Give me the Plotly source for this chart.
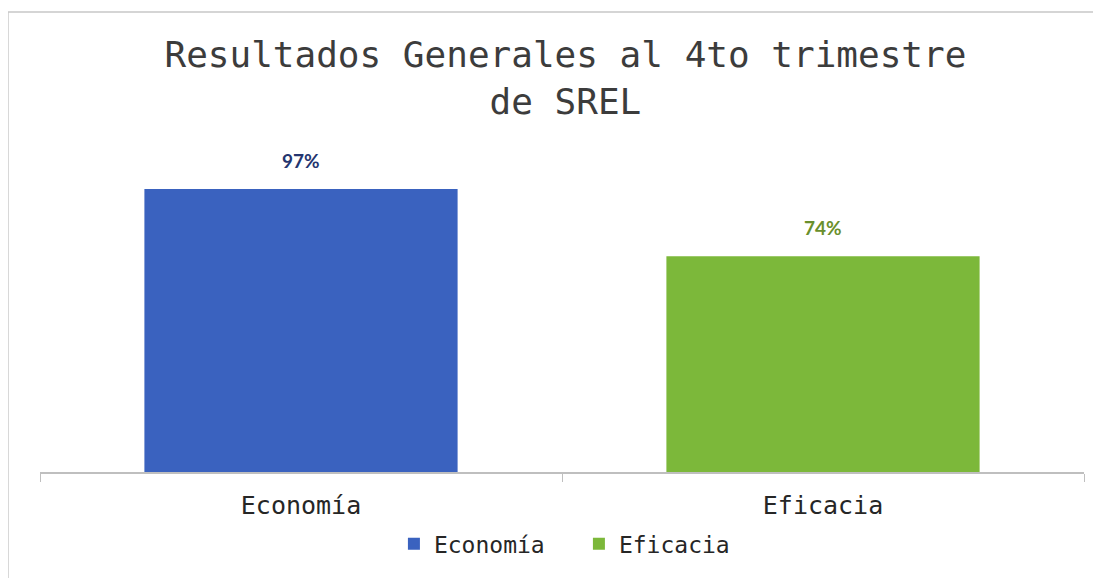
import plotly.graph_objects as go

categories = ["Economía", "Eficacia"]
values = [97, 74]
labels = ["97%", "74%"]
bar_colors = ["#3A62BF", "#7CB83A"]
label_colors = ["#24356F", "#6A8F2C"]

MONO = "DejaVu Sans Mono, Liberation Mono, monospace"

fig = go.Figure()
for cat, val, col in zip(categories, values, bar_colors):
    fig.add_trace(go.Bar(
        x=[cat], y=[val], name=cat,
        marker=dict(color=col, line=dict(width=0)),
    ))

annotations = []
for cat, val, lab, lcol in zip(categories, values, labels, label_colors):
    annotations.append(dict(
        x=cat, y=val, xref="x", yref="y", text="<b>" + lab + "</b>",
        showarrow=False, yanchor="bottom", yshift=15,
        font=dict(family="Lato, Noto Sans, sans-serif", size=19, color=lcol),
    ))

# the page body adds an 8px offset, so the figure is sized 8px smaller
fig.update_layout(
    width=1093, height=570,
    paper_bgcolor="white", plot_bgcolor="white",
    margin=dict(l=32, r=17, t=114, b=106),
    barmode="relative", bargap=0.4,
    title=dict(
        text="Resultados Generales al 4to trimestre<br>de SREL",
        x=0.51, xanchor="center", yref="container", y=0.896, yanchor="middle",
        font=dict(family=MONO, size=36, color="#3C3C3C"),
    ),
    xaxis=dict(
        type="category",
        showline=True, linecolor="#BFBFBF", linewidth=1.5,
        ticks="outside", tickson="boundaries", ticklen=8, tickcolor="#BFBFBF",
        ticklabelstandoff=10,
        tickfont=dict(family=MONO, size=25, color="#262626"),
        showgrid=False,
    ),
    yaxis=dict(range=[0, 120], visible=False, showgrid=False),
    legend=dict(
        orientation="h", x=0.339, xanchor="left", y=-0.205, yanchor="middle",
        font=dict(family=MONO, size=23, color="#262626"),
        itemwidth=30, traceorder="normal",
        entrywidth=140, entrywidthmode="pixels",
    ),
    showlegend=True,
    annotations=annotations,
    shapes=[dict(
        type="rect", xref="paper", yref="paper",
        x0=-0.0307, x1=1.03, y0=-0.4, y1=1.314,
        line=dict(color="#C8C8C8", width=1.5), fillcolor="rgba(0,0,0,0)",
        layer="below",
    )],
)

fig.write_html("out.html")
